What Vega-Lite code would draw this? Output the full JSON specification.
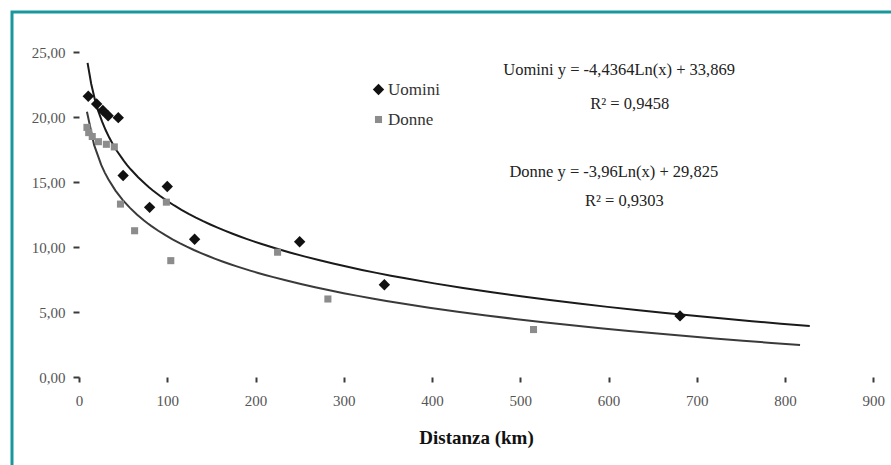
{
  "$schema": "https://vega.github.io/schema/vega-lite/v6.json",
  "width": 879,
  "height": 453,
  "autosize": {"type": "none"},
  "padding": {"left": 12, "top": 12, "right": 0, "bottom": 0},
  "background": "#ffffff",
  "config": {
    "locale": {"number": {"decimal": ",", "thousands": ".", "grouping": [3], "currency": ["", " €"]}},
    "view": {"stroke": "#1a979c", "strokeWidth": 3, "strokeDash": [879, 1332, 453]},
    "font": "Liberation Serif",
    "axis": {
      "grid": false,
      "domain": false,
      "labelFont": "Liberation Serif",
      "labelFontSize": 15,
      "labelColor": "#555555",
      "tickColor": "#3a3a3a",
      "tickWidth": 2,
      "tickSize": 5,
      "titleFont": "Liberation Serif"
    },
    "legend": {
      "labelFont": "Liberation Serif",
      "labelFontSize": 17,
      "labelColor": "#333333",
      "padding": 0,
      "rowPadding": 12,
      "labelOffset": 1
    }
  },
  "datasets": {
    "points": [
      {"serie": "Uomini", "x": 10.5, "y": 21.6},
      {"serie": "Uomini", "x": 20, "y": 21.0},
      {"serie": "Uomini", "x": 27, "y": 20.5},
      {"serie": "Uomini", "x": 33, "y": 20.1},
      {"serie": "Uomini", "x": 44.5, "y": 19.95},
      {"serie": "Uomini", "x": 50, "y": 15.5},
      {"serie": "Uomini", "x": 80, "y": 13.05},
      {"serie": "Uomini", "x": 100, "y": 14.65},
      {"serie": "Uomini", "x": 131, "y": 10.6},
      {"serie": "Uomini", "x": 250, "y": 10.4},
      {"serie": "Uomini", "x": 346, "y": 7.1},
      {"serie": "Uomini", "x": 681, "y": 4.7},
      {"serie": "Donne", "x": 9, "y": 19.2},
      {"serie": "Donne", "x": 11, "y": 18.8},
      {"serie": "Donne", "x": 15, "y": 18.5},
      {"serie": "Donne", "x": 22, "y": 18.1},
      {"serie": "Donne", "x": 31, "y": 17.9},
      {"serie": "Donne", "x": 40, "y": 17.7},
      {"serie": "Donne", "x": 47, "y": 13.3},
      {"serie": "Donne", "x": 63, "y": 11.25},
      {"serie": "Donne", "x": 99, "y": 13.45},
      {"serie": "Donne", "x": 104, "y": 8.95},
      {"serie": "Donne", "x": 225, "y": 9.6},
      {"serie": "Donne", "x": 282, "y": 6.0},
      {"serie": "Donne", "x": 515, "y": 3.65}
    ],
    "donneTrend": [
      {"x": 9, "y": 20.5},
      {"x": 15, "y": 18.4},
      {"x": 21, "y": 17.2},
      {"x": 34, "y": 15.0},
      {"x": 53, "y": 13.1},
      {"x": 75, "y": 11.8},
      {"x": 100, "y": 10.8},
      {"x": 130, "y": 9.8},
      {"x": 175, "y": 8.65},
      {"x": 250, "y": 7.3},
      {"x": 350, "y": 5.9},
      {"x": 420, "y": 5.15},
      {"x": 500, "y": 4.45},
      {"x": 600, "y": 3.7},
      {"x": 700, "y": 3.05},
      {"x": 817, "y": 2.4}
    ],
    "notes": [
      {"x": 612, "y": 23.6, "label": "Uomini y = -4,4364Ln(x) + 33,869"},
      {"x": 624, "y": 21.0, "label": "R² = 0,9458"},
      {"x": 606, "y": 15.8, "label": "Donne y = -3,96Ln(x) + 29,825"},
      {"x": 618, "y": 13.55, "label": "R² = 0,9303"}
    ]
  },
  "encoding": {
    "x": {
      "field": "x",
      "type": "quantitative",
      "scale": {"domain": [-75.92, 920.05], "nice": false, "zero": false},
      "axis": {
        "values": [0, 100, 200, 300, 400, 500, 600, 700, 800, 900],
        "format": "d",
        "offset": -88,
        "labelPadding": 11,
        "title": "Distanza (km)",
        "titleFontSize": 19,
        "titleFontWeight": "bold",
        "titleColor": "#111111",
        "titleX": 464,
        "titleY": 60,
        "titleBaseline": "middle"
      }
    },
    "y": {
      "field": "y",
      "type": "quantitative",
      "scale": {"domain": [-6.769, 28.077], "nice": false, "zero": false},
      "axis": {
        "values": [0, 5, 10, 15, 20, 25],
        "format": ".2f",
        "offset": -67,
        "tickSize": 6,
        "labelPadding": 8,
        "title": null
      }
    }
  },
  "layer": [
    {
      "mark": {"type": "rule", "color": "#5a5a5a", "strokeWidth": 3},
      "encoding": {
        "x": {"datum": 0, "type": "quantitative"},
        "x2": {"datum": 900},
        "y": {"datum": 0, "type": "quantitative"}
      }
    },
    {
      "mark": {"type": "rule", "color": "#5a5a5a", "strokeWidth": 3},
      "encoding": {
        "x": {"datum": 0, "type": "quantitative"},
        "y": {"datum": 0, "type": "quantitative"},
        "y2": {"datum": 25}
      }
    },
    {
      "data": {"name": "points"},
      "transform": [
        {"filter": "datum.serie === 'Uomini'"},
        {"regression": "y", "on": "x", "method": "log", "extent": [9.7, 828]}
      ],
      "mark": {"type": "line", "color": "#1a1a1a", "strokeWidth": 2}
    },
    {
      "data": {"name": "donneTrend"},
      "transform": [
        {"regression": "y", "on": "x", "method": "log", "extent": [9, 817]}
      ],
      "mark": {"type": "line", "color": "#3a3a3a", "strokeWidth": 2}
    },
    {
      "data": {"name": "points"},
      "mark": {"type": "point", "filled": true, "opacity": 1},
      "encoding": {
        "color": {
          "field": "serie",
          "type": "nominal",
          "scale": {"domain": ["Uomini", "Donne"], "range": ["#111111", "#8c8c8c"]},
          "legend": {"orient": "none", "legendX": 358, "legendY": 69, "title": null}
        },
        "shape": {
          "field": "serie",
          "type": "nominal",
          "scale": {"domain": ["Uomini", "Donne"], "range": ["diamond", "square"]},
          "legend": {"orient": "none", "legendX": 358, "legendY": 69, "title": null}
        },
        "size": {
          "field": "serie",
          "type": "nominal",
          "scale": {"domain": ["Uomini", "Donne"], "range": [130, 50]},
          "legend": {"orient": "none", "legendX": 358, "legendY": 69, "title": null}
        }
      }
    },
    {
      "data": {"name": "notes"},
      "mark": {"type": "text", "align": "center", "baseline": "middle", "fontSize": 16.5, "color": "#222222", "font": "Liberation Serif"},
      "encoding": {
        "text": {"field": "label", "type": "nominal"}
      }
    }
  ]
}
